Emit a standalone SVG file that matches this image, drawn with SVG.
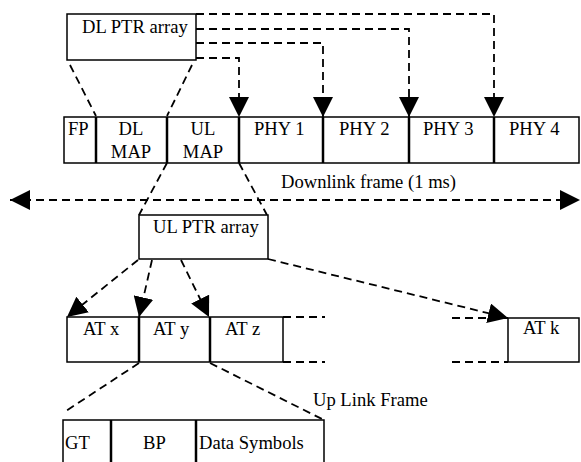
<svg xmlns="http://www.w3.org/2000/svg" width="581" height="462" viewBox="0 0 581 462">
  <defs>
    <marker id="head" viewBox="0 0 20 20" refX="20" refY="10" markerWidth="20" markerHeight="20" markerUnits="userSpaceOnUse" orient="auto-start-reverse">
      <path d="M0,0 L20,10 L0,20 Z" fill="#000"/>
    </marker>
  </defs>
  <style>
    text { font-family: "Liberation Serif", "Times New Roman", serif; font-size: 18.6px; fill: #000; }
    .box { fill: #fff; stroke: #000; stroke-width: 1.5; }
    .div { stroke: #000; stroke-width: 2.5; fill: none; }
    .dash { stroke: #000; stroke-width: 1.8; fill: none; stroke-dasharray: 8 5; }
    .arrow { marker-end: url(#head); }
    .mid { text-anchor: middle; }
  </style>

  <rect width="581" height="462" fill="#fff"/>

  <!-- connectors -->
  <g id="connectors">
    <!-- pointers from DL PTR array to each PHY burst -->
    <polyline class="dash arrow" points="196,14 494,14 494,117"/>
    <polyline class="dash arrow" points="196,29 409,29 409,117"/>
    <polyline class="dash arrow" points="196,43 323,43 323,117"/>
    <polyline class="dash arrow" points="196,58 239,58 239,117"/>
    <!-- DL MAP expansion -->
    <line class="dash" x1="70" y1="65" x2="96" y2="116"/>
    <line class="dash" x1="192" y1="65" x2="167" y2="116"/>
    <!-- downlink frame span -->
    <line class="dash" x1="10" y1="200" x2="580" y2="200" marker-start="url(#head)" marker-end="url(#head)"/>
    <!-- UL MAP expansion -->
    <line class="dash" x1="167" y1="163" x2="139" y2="215"/>
    <line class="dash" x1="239" y1="163" x2="267" y2="215"/>
    <!-- pointers from UL PTR array to the ATs -->
    <line class="dash arrow" x1="138" y1="260" x2="67" y2="317"/>
    <line class="dash arrow" x1="152" y1="260" x2="139" y2="317"/>
    <line class="dash arrow" x1="181" y1="260" x2="209" y2="317"/>
    <line class="dash arrow" x1="268" y1="259" x2="508" y2="318"/>
    <!-- continuation of the uplink frame -->
    <line class="dash" x1="283" y1="317" x2="325" y2="317"/>
    <line class="dash" x1="283" y1="362" x2="325" y2="362"/>
    <line class="dash" x1="452" y1="318" x2="508" y2="318"/>
    <line class="dash" x1="452" y1="362" x2="508" y2="362"/>
    <!-- AT y expansion -->
    <line class="dash" x1="139" y1="363" x2="63" y2="413"/>
    <line class="dash" x1="210" y1="363" x2="324" y2="420"/>
  </g>

  <!-- DL PTR array -->
  <g id="dl-ptr-array">
    <rect class="box" x="67" y="14" width="129" height="46"/>
    <text x="82" y="33">DL PTR array</text>
  </g>

  <!-- downlink frame -->
  <g id="downlink-frame">
    <rect class="box" x="64" y="117" width="515" height="46"/>
    <line class="div" x1="96" y1="117" x2="96" y2="163"/>
    <line class="div" x1="167" y1="117" x2="167" y2="163"/>
    <line class="div" x1="239" y1="117" x2="239" y2="163"/>
    <line class="div" x1="323" y1="117" x2="323" y2="163"/>
    <line class="div" x1="409" y1="117" x2="409" y2="163"/>
    <line class="div" x1="494" y1="117" x2="494" y2="163"/>
  </g>
  <g id="fp"><text x="68" y="135">FP</text></g>
  <g id="dl-map"><text class="mid" x="131" y="135">DL</text><text class="mid" x="131" y="158">MAP</text></g>
  <g id="ul-map"><text class="mid" x="203" y="135">UL</text><text class="mid" x="203" y="158">MAP</text></g>
  <g id="phy1"><text x="254" y="135">PHY 1</text></g>
  <g id="phy2"><text x="339" y="135">PHY 2</text></g>
  <g id="phy3"><text x="423" y="135">PHY 3</text></g>
  <g id="phy4"><text x="509" y="135">PHY 4</text></g>

  <g id="downlink-label"><text x="281" y="188">Downlink frame (1 ms)</text></g>

  <!-- UL PTR array -->
  <g id="ul-ptr-array">
    <rect class="box" x="139" y="215" width="129" height="44"/>
    <text x="153" y="233">UL PTR array</text>
  </g>

  <!-- uplink frame -->
  <g id="uplink-frame">
    <rect class="box" x="67" y="317" width="216" height="45"/>
    <line class="div" x1="139" y1="317" x2="139" y2="362"/>
    <line class="div" x1="210" y1="317" x2="210" y2="362"/>
  </g>
  <g id="at-x"><text x="83" y="335">AT x</text></g>
  <g id="at-y"><text x="153" y="335">AT y</text></g>
  <g id="at-z"><text x="225" y="335">AT z</text></g>
  <g id="at-k">
    <rect class="box" x="508" y="318" width="71" height="44"/>
    <text x="523" y="334">AT k</text>
  </g>

  <g id="uplink-label"><text x="313" y="406">Up Link Frame</text></g>

  <!-- AT burst structure -->
  <g id="burst">
    <polyline class="box" fill="none" points="63,465 63,420 324,420 324,465"/>
    <line class="div" x1="111" y1="420" x2="111" y2="465"/>
    <line class="div" x1="196" y1="420" x2="196" y2="465"/>
  </g>
  <g id="gt"><text x="65" y="449">GT</text></g>
  <g id="bp"><text x="143" y="449">BP</text></g>
  <g id="data-symbols"><text x="199" y="449">Data Symbols</text></g>
</svg>
